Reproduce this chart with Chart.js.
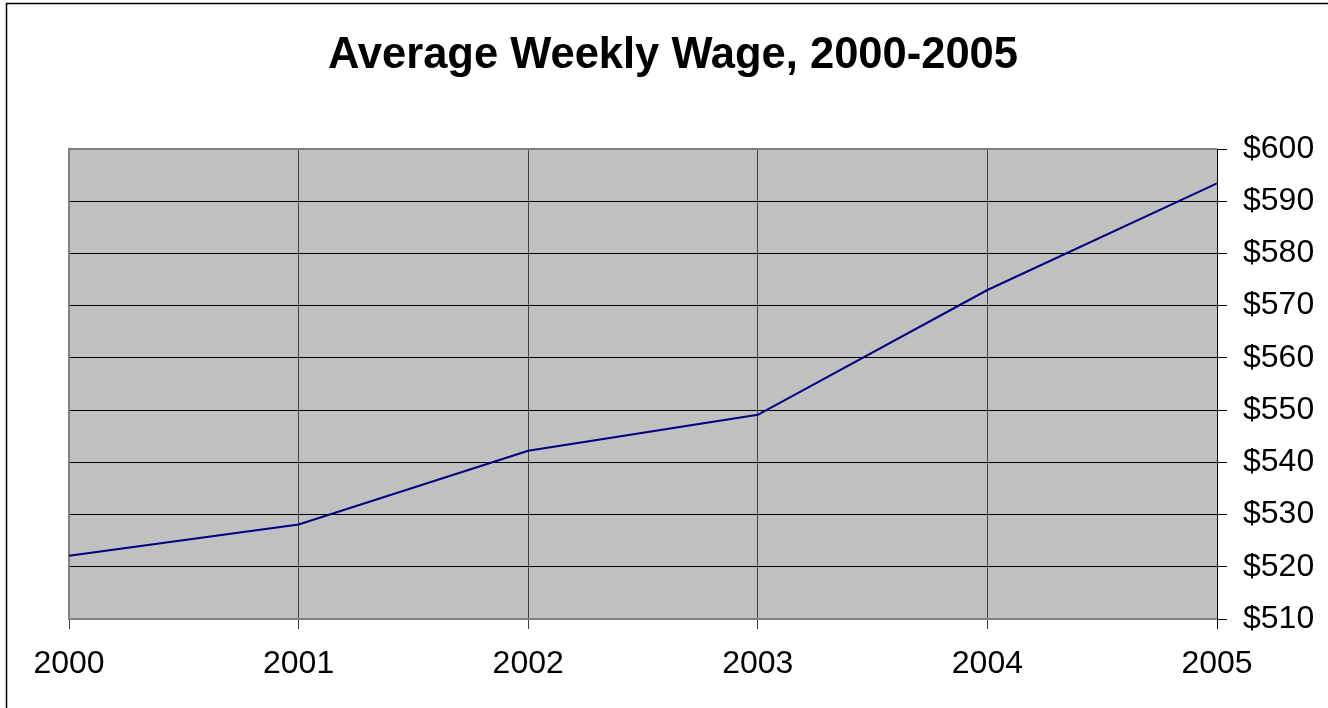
<!DOCTYPE html>
<html>
<head>
<meta charset="utf-8">
<title>Average Weekly Wage, 2000-2005</title>
<script src="https://cdn.jsdelivr.net/npm/chart.js@4"></script>
<style>
	html, body { margin: 0; padding: 0; background: #fff; }
	#wrap { position: relative; width: 1328px; height: 708px; }
</style>
</head>
<body>
<div id="wrap"><canvas id="wage-chart"></canvas></div>
<script>
/*
Data
*/
const years = ['2000', '2001', '2002', '2003', '2004', '2005']
const weeklyWage = [522.1, 528.1, 542.2, 549.1, 573.0, 593.4]
const wageTicks = [510, 520, 530, 540, 550, 560, 570, 580, 590, 600]
const chartTitle = 'Average Weekly Wage, 2000-2005'

const fontFamily = 'Arial, "Liberation Sans", Helvetica, sans-serif'

/*
White page, the frame round it, grey plot area and the title
*/
const backdrop = {
	id: 'backdrop',
	beforeDraw: chart => {
		const ctx = chart.ctx
		const area = chart.chartArea
		ctx.save()
		ctx.fillStyle = '#ffffff'
		ctx.fillRect(0, 0, chart.width, chart.height)
		ctx.strokeStyle = '#000000'
		ctx.lineWidth = 1.5
		ctx.beginPath()
		ctx.moveTo(6.5, chart.height + 5)
		ctx.lineTo(6.5, 3.5)
		ctx.lineTo(chart.width + 5, 3.5)
		ctx.stroke()
		ctx.fillStyle = '#c0c0c0'
		ctx.fillRect(area.left, area.top, area.right - area.left, area.bottom - area.top)
		ctx.fillStyle = '#000000'
		ctx.font = 'bold 43.5px ' + fontFamily
		ctx.textAlign = 'center'
		ctx.textBaseline = 'alphabetic'
		ctx.fillText(chartTitle, 673, 68)
		ctx.restore()
	},
	beforeDatasetsDraw: chart => {
		const ctx = chart.ctx
		const area = chart.chartArea
		ctx.save()
		ctx.strokeStyle = '#808080'
		ctx.lineWidth = 2
		ctx.beginPath()
		ctx.moveTo(area.right, area.top)
		ctx.lineTo(area.left, area.top)
		ctx.lineTo(area.left, area.bottom)
		ctx.lineTo(area.right, area.bottom)
		ctx.stroke()
		ctx.strokeStyle = '#000000'
		ctx.lineWidth = 1
		ctx.beginPath()
		ctx.moveTo(area.right + 0.5, area.top)
		ctx.lineTo(area.right + 0.5, area.bottom + 10)
		ctx.stroke()
		ctx.restore()
	}
}

const wageCtx = document.getElementById('wage-chart').getContext('2d')

const wageChart = new Chart(wageCtx, {
	type: 'line',
	data: {
		labels: years,
		datasets: [{
			data: weeklyWage,
			borderColor: '#000080',
			borderWidth: 2,
			pointRadius: 0,
			tension: 0,
			fill: false
		}]
	},
	options: {
		responsive: true,
		maintainAspectRatio: false,
		animation: false,
		devicePixelRatio: 1,
		layout: {
			padding: { left: 69, top: 149, right: 0, bottom: 0 }
		},
		plugins: {
			legend: { display: false },
			title: { display: false },
			tooltip: { enabled: false }
		},
		scales: {
			x: {
				offset: false,
				afterFit: scale => { scale.height = 89 },
				grid: {
					color: '#404040',
					lineWidth: 1,
					tickLength: 10,
					tickColor: '#404040'
				},
				border: { display: false },
				ticks: {
					color: '#000000',
					font: { family: fontFamily, size: 32 },
					padding: 16,
					maxRotation: 0,
					autoSkip: false
				}
			},
			y: {
				position: 'right',
				min: wageTicks[0],
				max: wageTicks[wageTicks.length - 1],
				afterFit: scale => { scale.width = 111 },
				afterBuildTicks: scale => {
					scale.ticks = wageTicks.map(v => ({ value: v }))
				},
				grid: {
					color: '#000000',
					lineWidth: 1,
					tickLength: 10,
					tickColor: '#000000'
				},
				border: { display: false },
				ticks: {
					color: '#000000',
					font: { family: fontFamily, size: 32 },
					padding: 16,
					callback: value => '$' + value
				}
			}
		}
	},
	plugins: [backdrop]
})
</script>
</body>
</html>
